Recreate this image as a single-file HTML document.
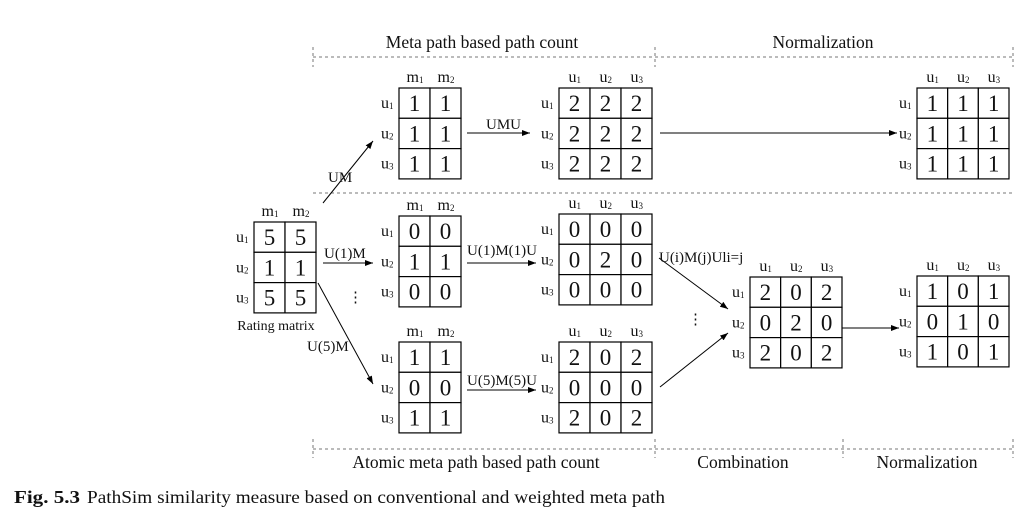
<!DOCTYPE html>
<html><head><meta charset="utf-8"><style>
html,body{margin:0;padding:0;background:#fff;}
svg{display:block;font-family:"Liberation Serif",serif;}
</style></head><body>
<svg id="fig" width="1021" height="518" viewBox="0 0 1021 518" xmlns="http://www.w3.org/2000/svg">
<defs><marker id="ah" markerWidth="8" markerHeight="6" refX="8" refY="3" orient="auto" markerUnits="userSpaceOnUse"><path d="M0,0 L8,3 L0,6 z" fill="#000"/></marker></defs>
<g id="guides" stroke="#777" stroke-width="1" stroke-dasharray="3,3" fill="none">
<line x1="313" y1="57" x2="1013" y2="57"/>
<line x1="313" y1="47" x2="313" y2="67"/><line x1="655" y1="47" x2="655" y2="67"/><line x1="1013" y1="47" x2="1013" y2="67"/>
<line x1="313" y1="193" x2="1013" y2="193"/>
<line x1="313" y1="449" x2="1013" y2="449"/>
<line x1="313" y1="439" x2="313" y2="458"/><line x1="655" y1="439" x2="655" y2="458"/><line x1="843" y1="439" x2="843" y2="458"/><line x1="1013" y1="439" x2="1013" y2="458"/>
</g>
<g font-size="17.5" fill="#111" text-anchor="middle">
<text x="482" y="48">Meta path based path count</text>
<text x="823" y="48">Normalization</text>
<text x="476" y="468">Atomic meta path based path count</text>
<text x="743" y="468">Combination</text>
<text x="927" y="468">Normalization</text>
</g>
<text x="14" y="503" font-size="17.5" font-weight="bold" fill="#111" textLength="66" lengthAdjust="spacingAndGlyphs">Fig. 5.3</text>
<text x="87" y="503" font-size="17.5" fill="#111" textLength="578" lengthAdjust="spacingAndGlyphs">PathSim similarity measure based on conventional and weighted meta path</text>
<text x="276" y="330" font-size="14" text-anchor="middle" fill="#111">Rating matrix</text>
<g id="arrows" stroke="#000" stroke-width="1" fill="none"></g>
<g id="labels" font-size="15" fill="#111"></g>
<g id="mats"></g>
</svg>
<script>
const matRating=[[5,5],[1,1],[5,5]];
const matUM=[[1,1],[1,1],[1,1]];
const matUMU=[[2,2,2],[2,2,2],[2,2,2]];
const matNorm1=[[1,1,1],[1,1,1],[1,1,1]];
const matU1M=[[0,0],[1,1],[0,0]];
const matU1MU=[[0,0,0],[0,2,0],[0,0,0]];
const matU5M=[[1,1],[0,0],[1,1]];
const matU5MU=[[2,0,2],[0,0,0],[2,0,2]];
const matComb=[[2,0,2],[0,2,0],[2,0,2]];
const matNorm2=[[1,0,1],[0,1,0],[1,0,1]];
const NS="http://www.w3.org/2000/svg";
function mk(tag,attrs,parent){const e=document.createElementNS(NS,tag);for(const k in attrs)e.setAttribute(k,attrs[k]);parent.appendChild(e);return e;}
const mats=document.getElementById('mats');
function matrix(name,data,x,y,w,cols){
  const g=mk('g',{},mats);
  
  
  const nc=data[0].length,cw=w/nc,ch=30.3;
  data.forEach((row,r)=>{
    row.forEach((v,c)=>{
      mk('rect',{x:x+c*cw,y:y+r*ch,width:cw,height:ch,fill:'#fff',stroke:'#000','stroke-width':1.2},g);
      const t=mk('text',{x:x+c*cw+cw/2,y:y+r*ch+23,'font-size':23,'text-anchor':'middle',fill:'#111'},g);
      t.textContent=v;
    });
    const rl=mk('text',{x:x-18,y:y+r*ch+20,'font-size':16,fill:'#111'},g);
    rl.innerHTML='u<tspan font-size="9" dy="1">'+(r+1)+'</tspan>';
  });
  for(let c=0;c<nc;c++){
    const cl=mk('text',{x:x+c*cw+cw/2-(cols==='m'?8:6),y:y-6,'font-size':16,fill:'#111'},g);
    cl.innerHTML=cols+'<tspan font-size="9" dy="1">'+(c+1)+'</tspan>';
  }
}
matrix('rating-matrix',matRating,254,222,62,'m');
matrix('um-matrix',matUM,399,88,62,'m');
matrix('umu-matrix',matUMU,559,88,93,'u');
matrix('normalized-umu-matrix',matNorm1,917,88,92,'u');
matrix('u1m-matrix',matU1M,399,216,62,'m');
matrix('u1mu-matrix',matU1MU,559,214,93,'u');
matrix('u5m-matrix',matU5M,399,342,62,'m');
matrix('u5mu-matrix',matU5MU,559,342,93,'u');
matrix('combined-matrix',matComb,750,277,92,'u');
matrix('normalized-combined-matrix',matNorm2,917,276,92,'u');
const ar=document.getElementById('arrows');
function arrow(name,x1,y1,x2,y2){
  const l=mk('line',{x1,y1,x2,y2,'marker-end':'url(#ah)'},ar);
  
  
}
arrow('um-arrow',323,203,373,141);
arrow('u1m-arrow',323,263,373,263);
arrow('u5m-arrow',318,283,373,384);
arrow('umu-arrow',467,133,530,133);
arrow('normalize-top-arrow',660,133,897,133);
arrow('u1mu-arrow',467,263,536,263);
arrow('u5mu-arrow',467,390,536,390);
arrow('combine-arrow-1',659,258,728,309);
arrow('combine-arrow-2',660,387,728,333);
arrow('normalize-bottom-arrow',842,328,899,328);
const lb=document.getElementById('labels');
function label(name,x,y,txt){
  const t=mk('text',{x,y},lb);
  
  
  t.textContent=txt;
}
label('um-label',328,182,'UM');
label('u1m-label',324,258,'U(1)M');
label('u5m-label',307,351,'U(5)M');
label('umu-label',486,129,'UMU');
label('u1mu-label',467,255,'U(1)M(1)U');
label('u5mu-label',467,385,'U(5)M(5)U');
label('combination-rule-label',659,262,'U(i)M(j)Uli=j');
label('ellipsis-left',348,302,'⋮');
label('ellipsis-right',688,324,'⋮');
</script>
</body></html>
